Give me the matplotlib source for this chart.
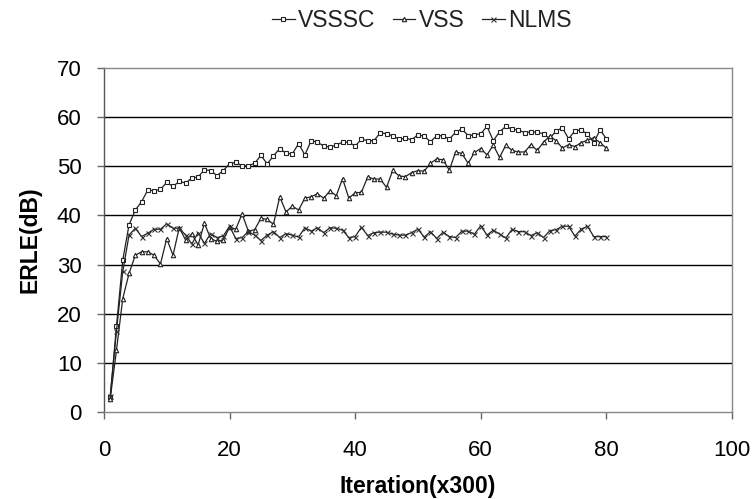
import matplotlib
matplotlib.use("Agg")
import matplotlib.pyplot as plt
import numpy as np

# ERLE curves, one value per iteration block (x300)
iterations = np.arange(1, 81)

vsssc = [
    3.0, 17.5, 30.9, 38.1, 41.1, 42.8, 45.2, 45.0, 45.3, 46.7,
    45.9, 46.9, 46.6, 47.6, 47.8, 49.3, 49.1, 48.1, 49.1, 50.5,
    50.8, 50.1, 50.1, 50.6, 52.2, 50.5, 52.1, 53.6, 52.6, 52.5,
    54.6, 52.3, 55.2, 54.9, 54.1, 53.9, 54.3, 54.9, 54.9, 54.1,
    55.5, 55.2, 55.2, 56.8, 56.6, 56.2, 55.5, 55.7, 55.4, 56.4,
    56.1, 55.0, 56.2, 56.2, 55.5, 56.9, 57.6, 56.2, 56.4, 56.6,
    58.1, 55.2, 57.0, 58.1, 57.5, 57.4, 56.8, 57.0, 56.9, 56.6,
    55.6, 57.2, 57.8, 55.6, 57.2, 57.4, 56.5, 54.8, 57.4, 55.6,
]

vss = [
    2.7, 12.6, 23.1, 28.2, 31.9, 32.6, 32.6, 31.9, 30.1, 35.3,
    31.9, 37.5, 35.0, 36.2, 34.0, 38.4, 35.3, 34.7, 35.0, 37.6,
    37.2, 40.3, 36.8, 37.1, 39.4, 39.2, 38.2, 43.8, 40.7, 41.9,
    41.1, 43.5, 43.8, 44.4, 43.5, 45.0, 44.0, 47.5, 43.5, 44.6,
    44.7, 47.8, 47.4, 47.4, 45.7, 49.2, 48.0, 47.9, 48.7, 49.1,
    49.0, 50.6, 51.5, 51.3, 49.2, 52.9, 52.6, 50.6, 52.8, 53.6,
    52.3, 54.3, 51.8, 54.3, 53.2, 52.9, 52.9, 54.4, 53.2, 54.9,
    56.1, 55.2, 53.7, 54.4, 54.0, 54.8, 55.3, 55.8, 54.8, 53.7,
]

nlms = [
    3.2, 16.5, 28.6, 36.0, 37.4, 35.7, 36.4, 37.2, 37.2, 38.3,
    37.4, 37.4, 36.0, 34.2, 36.5, 34.3, 36.3, 35.5, 35.8, 37.8,
    35.3, 35.5, 36.7, 36.0, 34.9, 36.0, 36.7, 35.5, 36.3, 36.0,
    35.6, 37.5, 36.8, 37.5, 36.5, 37.5, 37.4, 37.0, 35.5, 35.7,
    37.6, 35.9, 36.5, 36.6, 36.6, 36.2, 36.0, 36.0, 36.5, 37.2,
    35.6, 36.7, 35.3, 36.6, 35.7, 35.5, 36.8, 36.8, 36.2, 37.9,
    36.0, 37.0, 36.2, 35.4, 37.2, 36.7, 36.7, 35.9, 36.5, 35.5,
    36.9, 37.1, 37.8, 37.8, 35.8, 37.2, 37.8, 35.7, 35.7, 35.7,
]

x_ticks = [0, 20, 40, 60, 80, 100]
y_ticks = [0, 10, 20, 30, 40, 50, 60, 70]

plt.rcParams["font.family"] = ["Liberation Sans", "DejaVu Sans"]

fig = plt.figure(figsize=(7.53, 4.99), dpi=100)
ax = fig.add_axes([0.138, 0.174, 0.834, 0.690])

# black horizontal gridlines, Excel style
for y in y_ticks[1:-1]:
    ax.axhline(y, color="black", lw=1.0, zorder=1)

line_kw = dict(color="#222222", lw=0.9, zorder=3)
ax.plot(iterations, vsssc, marker="s", markersize=3.4, markerfacecolor="white",
        markeredgecolor="#222222", markeredgewidth=0.8, label="VSSSC", **line_kw)
ax.plot(iterations, vss, marker="^", markersize=3.2, markerfacecolor="white",
        markeredgecolor="#222222", markeredgewidth=0.8, label="VSS", **line_kw)
ax.plot(iterations, nlms, marker="x", markersize=3.6,
        markeredgecolor="#333333", markeredgewidth=0.8, label="NLMS", **line_kw)

ax.set_xlim(0, 100)
ax.set_ylim(0, 70)
ax.set_xticks(x_ticks)
ax.set_yticks(y_ticks)
ax.tick_params(axis="both", labelsize=16, length=5, width=1, color="#666666",
               direction="out")
ax.tick_params(axis="x", pad=15)
ax.tick_params(axis="y", pad=11)

for side in ["top", "right", "bottom"]:
    ax.spines[side].set_color("#888888")
    ax.spines[side].set_linewidth(1.0)
ax.spines["left"].set_color("#555555")
ax.spines["left"].set_linewidth(1.0)

ax.set_xlabel("Iteration(x300)", fontsize=16.5, fontweight="bold", labelpad=10)
ax.set_ylabel("ERLE(dB)", fontsize=16.5, fontweight="bold", labelpad=11)

fig.legend(loc="center", bbox_to_anchor=(0.56, 0.958), ncol=3, frameon=False,
           fontsize=16.5, handlelength=1.0, handletextpad=0.15, columnspacing=0.75,
           labelcolor="#222222")

fig.savefig("out.png", dpi=100, facecolor="white")
